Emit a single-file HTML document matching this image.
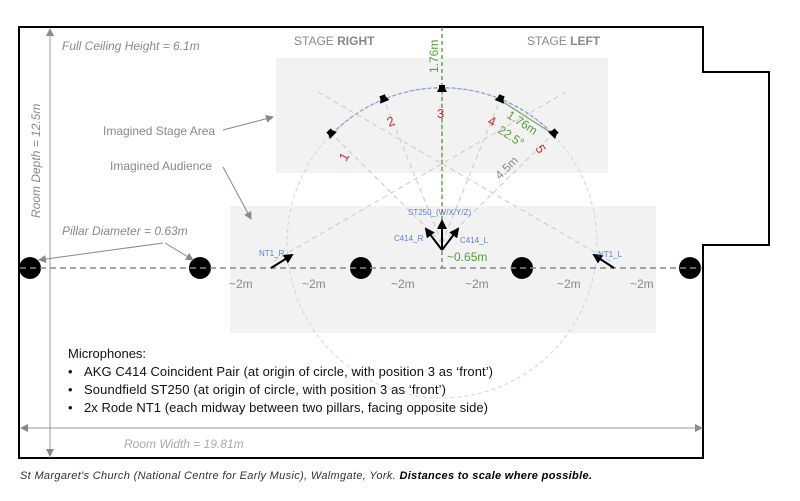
<!DOCTYPE html>
<html><head><meta charset="utf-8"><style>
html,body{margin:0;padding:0;background:#fff;}
svg{display:block;font-family:"Liberation Sans",sans-serif;}
</style></head><body>
<svg width="800" height="501" viewBox="0 0 800 501" xmlns="http://www.w3.org/2000/svg">
<defs>
<marker id="ga" markerWidth="8" markerHeight="8" refX="7" refY="4" orient="auto" markerUnits="userSpaceOnUse"><path d="M0,0 L8,4 L0,8 z" fill="#888"/></marker>
<marker id="ba" markerWidth="10" markerHeight="10" refX="8" refY="5" orient="auto" markerUnits="userSpaceOnUse"><path d="M0,0 L10,5 L0,10 z" fill="#000"/></marker>
</defs>
<rect x="276" y="58" width="332" height="115" fill="#f2f2f2"/>
<rect x="230" y="206" width="426" height="127" fill="#f2f2f2"/>
<path d="M19,27 H703 V72 H769 V245 H703 V458 H19 Z" fill="none" stroke="#000" stroke-width="2"/>
<line x1="50" y1="458" x2="50" y2="29" stroke="#999" stroke-width="1" marker-end="url(#ga)"/>
<line x1="50" y1="30" x2="50" y2="456" stroke="#999" stroke-width="1" marker-end="url(#ga)"/>
<line x1="21" y1="428" x2="702" y2="428" stroke="#999" stroke-width="1" marker-end="url(#ga)"/>
<line x1="702" y1="428" x2="21" y2="428" stroke="#999" stroke-width="1" marker-end="url(#ga)"/>
<circle cx="442" cy="243" r="155" fill="none" stroke="#c8d4ec" stroke-width="1" stroke-dasharray="4,3"/>
<path d="M332,134 A155,155 0 0 1 553,134" fill="none" stroke="#7f9fd6" stroke-width="1.2" stroke-dasharray="4,2"/>
<line x1="500" y1="100" x2="553" y2="134" stroke="#6a9a4a" stroke-width="1"/>
<g stroke="#c8c8c8" stroke-width="1" stroke-dasharray="5,4" fill="none">
<line x1="442" y1="243" x2="332" y2="134"/>
<line x1="442" y1="243" x2="384" y2="100"/>
<line x1="442" y1="243" x2="442" y2="90"/>
<line x1="442" y1="243" x2="500" y2="100"/>
<line x1="442" y1="243" x2="553" y2="134"/>
<line x1="318" y1="92" x2="612" y2="262"/>
<line x1="566" y1="92" x2="272" y2="262"/>
</g>
<line x1="442" y1="27" x2="442" y2="268" stroke="#4a8a2a" stroke-width="1.2" stroke-dasharray="4,3"/>
<g fill="#000">
<circle cx="30" cy="268" r="11"/><circle cx="200" cy="268" r="11"/><circle cx="361" cy="268" r="11"/><circle cx="522" cy="268" r="11"/><circle cx="690" cy="268" r="11"/>
</g>
<line x1="20" y1="268" x2="702" y2="268" stroke="#888" stroke-width="1.5" stroke-dasharray="6,4"/>
<g fill="#000">
<g transform="translate(332,134) rotate(-45)"><rect x="-3" y="-5" width="6" height="4"/><path d="M-5,2 L5,2 L3,-2 L-3,-2z"/></g>
<g transform="translate(384,100) rotate(-22.5)"><rect x="-3" y="-5" width="6" height="4"/><path d="M-5,2 L5,2 L3,-2 L-3,-2z"/></g>
<g transform="translate(442,90)"><rect x="-3" y="-5" width="6" height="4"/><path d="M-5,2 L5,2 L3,-2 L-3,-2z"/></g>
<g transform="translate(500,100) rotate(22.5)"><rect x="-3" y="-5" width="6" height="4"/><path d="M-5,2 L5,2 L3,-2 L-3,-2z"/></g>
<g transform="translate(553,134) rotate(45)"><rect x="-3" y="-5" width="6" height="4"/><path d="M-5,2 L5,2 L3,-2 L-3,-2z"/></g>
</g>
<g stroke="#000" stroke-width="2">
<line x1="442" y1="250" x2="442" y2="221" marker-end="url(#ba)"/>
<line x1="442" y1="250" x2="426" y2="229" marker-end="url(#ba)"/>
<line x1="442" y1="250" x2="458" y2="229" marker-end="url(#ba)"/>
<line x1="271" y1="268" x2="292" y2="255" marker-end="url(#ba)"/>
<line x1="614" y1="268" x2="594" y2="255" marker-end="url(#ba)"/>
</g>
<g stroke="#888" stroke-width="1" fill="none">
<line x1="223" y1="130" x2="273" y2="117" marker-end="url(#ga)"/>
<line x1="223" y1="167" x2="251" y2="219" marker-end="url(#ga)"/>
<line x1="163" y1="243" x2="39" y2="260" marker-end="url(#ga)"/>
<line x1="165" y1="243" x2="193" y2="260" marker-end="url(#ga)"/>
</g>
<g font-size="12" fill="#888">
<text x="294" y="45">STAGE <tspan font-weight="bold">RIGHT</tspan></text>
<text x="527" y="45">STAGE <tspan font-weight="bold">LEFT</tspan></text>
<text x="103" y="135">Imagined Stage Area</text>
<text x="110" y="170">Imagined Audience</text>
<text x="62" y="50" font-style="italic">Full Ceiling Height = 6.1m</text>
<text x="62" y="235" font-style="italic">Pillar Diameter = 0.63m</text>
<text x="124" y="448" font-style="italic" fill="#aaa">Room Width = 19.81m</text>
<text transform="translate(40,218) rotate(-90)" font-style="italic">Room Depth = 12.5m</text>
<text x="229" y="288">~2m</text><text x="302" y="288">~2m</text><text x="391" y="288">~2m</text>
<text x="465" y="288">~2m</text><text x="557" y="288">~2m</text><text x="630" y="288">~2m</text>
<text transform="translate(500,180) rotate(-45)">4.5m</text>
</g>
<g font-size="13" fill="#d03030">
<text transform="translate(346,162) rotate(-60)">1</text>
<text transform="translate(389,127) rotate(-22)">2</text>
<text x="437" y="118">3</text>
<text transform="translate(487,124) rotate(22)">4</text>
<text transform="translate(535,148) rotate(60)">5</text>
</g>
<g fill="#5a9a3a" font-size="12">
<text transform="translate(438,73) rotate(-90)">1.76m</text>
<text transform="translate(506,117) rotate(33)">1.76m</text>
<text transform="translate(497,132) rotate(33)">22.5°</text>
<text x="447" y="261">~0.65m</text>
</g>
<g fill="#5a7fd0" font-size="8">
<text x="408" y="215">ST250_(W/X/Y/Z)</text>
<text x="394" y="241">C414_R</text>
<text x="460" y="243">C414_L</text>
<text x="259" y="256">NT1_R</text>
<text x="598" y="257">NT1_L</text>
</g>
<g font-size="13" fill="#111">
<text x="68" y="358">Microphones:</text>
<text x="68" y="376">•</text><text x="84" y="376" textLength="409">AKG C414 Coincident Pair (at origin of circle, with position 3 as ‘front’)</text>
<text x="68" y="394">•</text><text x="84" y="394" textLength="362">Soundfield ST250 (at origin of circle, with position 3 as ‘front’)</text>
<text x="68" y="412">•</text><text x="84" y="412" textLength="404">2x Rode NT1 (each midway between two pillars, facing opposite side)</text>
</g>
<text x="20" y="479" font-size="11" font-style="italic" fill="#333" textLength="572">St Margaret's Church (National Centre for Early Music), Walmgate, York. <tspan font-weight="bold" fill="#000">Distances to scale where possible.</tspan></text>
</svg>
</body></html>
